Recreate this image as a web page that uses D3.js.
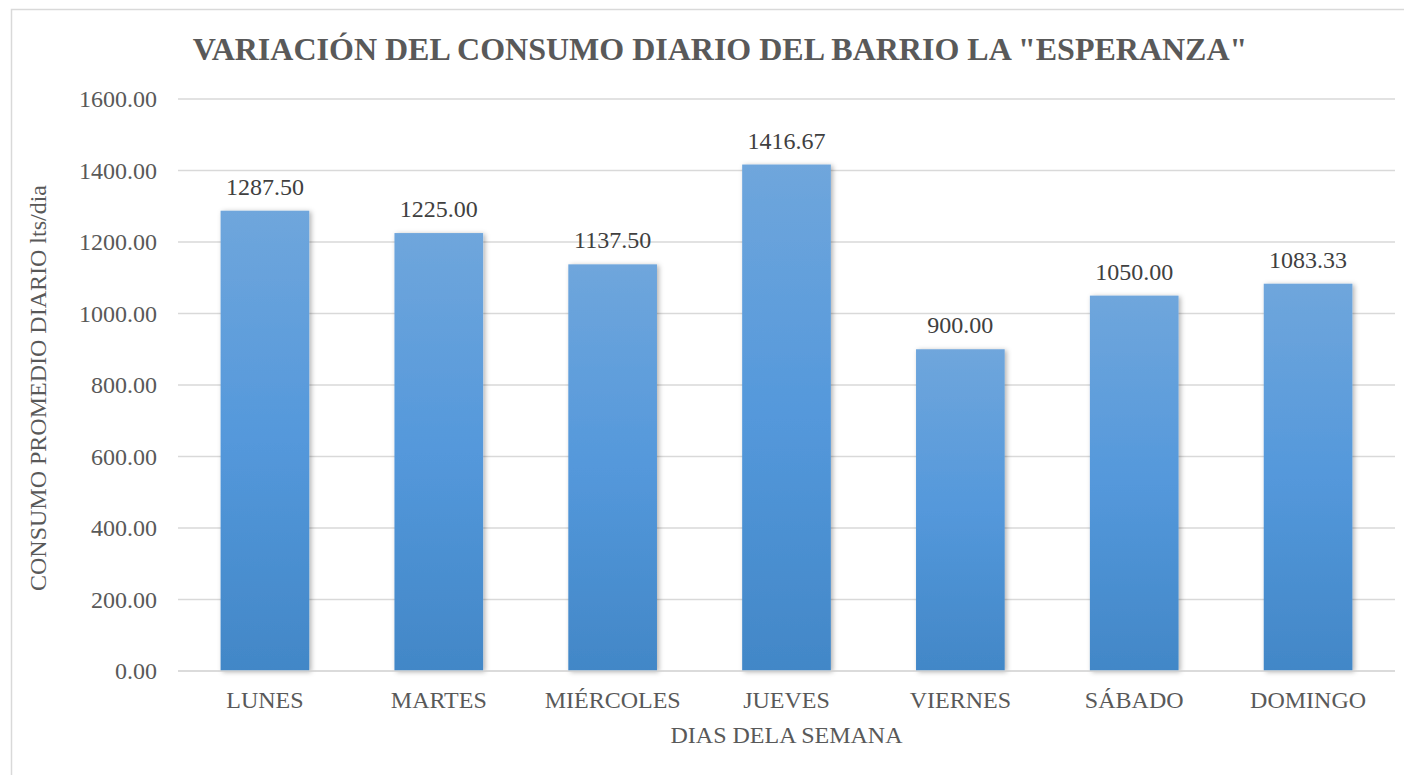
<!DOCTYPE html>
<html>
  <head>
    <meta charset="utf-8">
    <title>Consumo diario</title>
    <script src="https://d3js.org/d3.v7.min.js"></script>
    <style>
      body { margin: 0; background: #fff; }
      svg text { font-family: "Liberation Serif", "Times New Roman", serif; }
    </style>
  </head>
  <body>
    <script>
      // datos
      const dias = ["LUNES", "MARTES", "MIÉRCOLES", "JUEVES", "VIERNES", "SÁBADO", "DOMINGO"];
      const consumo = [1287.50, 1225.00, 1137.50, 1416.67, 900.00, 1050.00, 1083.33];
      const yTicks = [0, 200, 400, 600, 800, 1000, 1200, 1400, 1600];

      const width = 1404;
      const height = 775;
      const margin = {top: 99, right: 9, bottom: 104, left: 178};
      const serif = "'Liberation Serif', 'Times New Roman', serif";

      const svg = d3.select("body")
        .append("svg")
          .attr("width", width)
          .attr("height", height)
          .attr("font-family", serif);

      // chart border
      svg.append("rect")
        .attr("x", 11.5)
        .attr("y", 9.5)
        .attr("width", width)
        .attr("height", height)
        .attr("fill", "none")
        .attr("stroke", "#d9d9d9")
        .attr("stroke-width", 1.5);

      const defs = svg.append("defs");
      const grad = defs.append("linearGradient")
        .attr("id", "barGrad")
        .attr("x1", 0).attr("y1", 0)
        .attr("x2", 0).attr("y2", 1);
      grad.append("stop").attr("offset", "0%").attr("stop-color", "#6fa6dc");
      grad.append("stop").attr("offset", "50%").attr("stop-color", "#5498db");
      grad.append("stop").attr("offset", "100%").attr("stop-color", "#4287c7");

      const shadow = defs.append("filter")
        .attr("id", "shadow")
        .attr("x", "-20%").attr("y", "-5%")
        .attr("width", "140%").attr("height", "110%");
      shadow.append("feDropShadow")
        .attr("dx", 2).attr("dy", 1)
        .attr("stdDeviation", 2.5)
        .attr("flood-color", "#000")
        .attr("flood-opacity", 0.3);

      const x = d3.scaleBand()
        .domain(dias)
        .range([margin.left, width - margin.right])
        .paddingInner(0.49)
        .paddingOuter(0.245);

      const y = d3.scaleLinear()
        .domain([0, 1600])
        .range([height - margin.bottom, margin.top]);

      // gridlines
      svg.append("g")
        .selectAll("line")
        .data(yTicks)
        .join("line")
          .attr("x1", margin.left)
          .attr("x2", width - margin.right)
          .attr("y1", d => y(d))
          .attr("y2", d => y(d))
          .attr("stroke", "#d9d9d9")
          .attr("stroke-width", 1.5);

      // y tick labels
      const yAxis = d3.axisLeft(y)
        .tickValues(yTicks)
        .tickFormat(d3.format(".2f"))
        .tickSize(0)
        .tickPadding(0);

      svg.append("g")
        .attr("transform", "translate(" + 157 + ",0)")
        .call(yAxis)
        .attr("font-family", serif)
        .attr("font-size", 24)
        .call(g => g.select(".domain").remove())
        .call(g => g.selectAll("text").attr("fill", "#595959"));

      // bars
      svg.append("g")
        .selectAll("rect")
        .data(consumo)
        .join("rect")
          .attr("x", (d, i) => x(dias[i]))
          .attr("y", d => y(d))
          .attr("width", x.bandwidth())
          .attr("height", d => y(0) - y(d))
          .attr("fill", "url(#barGrad)")
          .attr("filter", "url(#shadow)");

      // value labels
      svg.append("g")
        .selectAll("text")
        .data(consumo)
        .join("text")
          .attr("x", (d, i) => x(dias[i]) + x.bandwidth() / 2)
          .attr("y", d => y(d) - 16)
          .attr("text-anchor", "middle")
          .attr("font-size", 24)
          .attr("fill", "#404040")
          .text(d => d3.format(".2f")(d));

      // baseline redraw
      svg.append("line")
        .attr("x1", margin.left)
        .attr("x2", width - margin.right)
        .attr("y1", y(0))
        .attr("y2", y(0))
        .attr("stroke", "#d9d9d9")
        .attr("stroke-width", 1.5);

      // x axis labels
      const xAxis = d3.axisBottom(x).tickSize(0).tickPadding(0);
      svg.append("g")
        .attr("transform", "translate(0," + y(0) + ")")
        .call(xAxis)
        .attr("font-family", serif)
        .attr("font-size", 24)
        .call(g => g.select(".domain").remove())
        .call(g => g.selectAll("text")
          .attr("y", 37)
          .attr("dy", 0)
          .attr("fill", "#595959"));

      // axis titles
      svg.append("text")
        .attr("x", (margin.left + width - margin.right) / 2)
        .attr("y", 743)
        .attr("text-anchor", "middle")
        .attr("font-size", 24)
        .attr("fill", "#595959")
        .text("DIAS DELA SEMANA");

      svg.append("text")
        .attr("transform", "translate(" + 46 + "," + 388 + ") rotate(-90)")
        .attr("text-anchor", "middle")
        .attr("font-size", 24)
        .attr("fill", "#595959")
        .text("CONSUMO PROMEDIO DIARIO lts/dia");

      // title
      svg.append("text")
        .attr("x", 720)
        .attr("y", 60)
        .attr("text-anchor", "middle")
        .attr("font-size", 32)
        .attr("font-weight", "bold")
        .attr("fill", "#595959")
        .text("VARIACIÓN DEL CONSUMO DIARIO DEL BARRIO LA \"ESPERANZA\"");
    </script>
  </body>
</html>
